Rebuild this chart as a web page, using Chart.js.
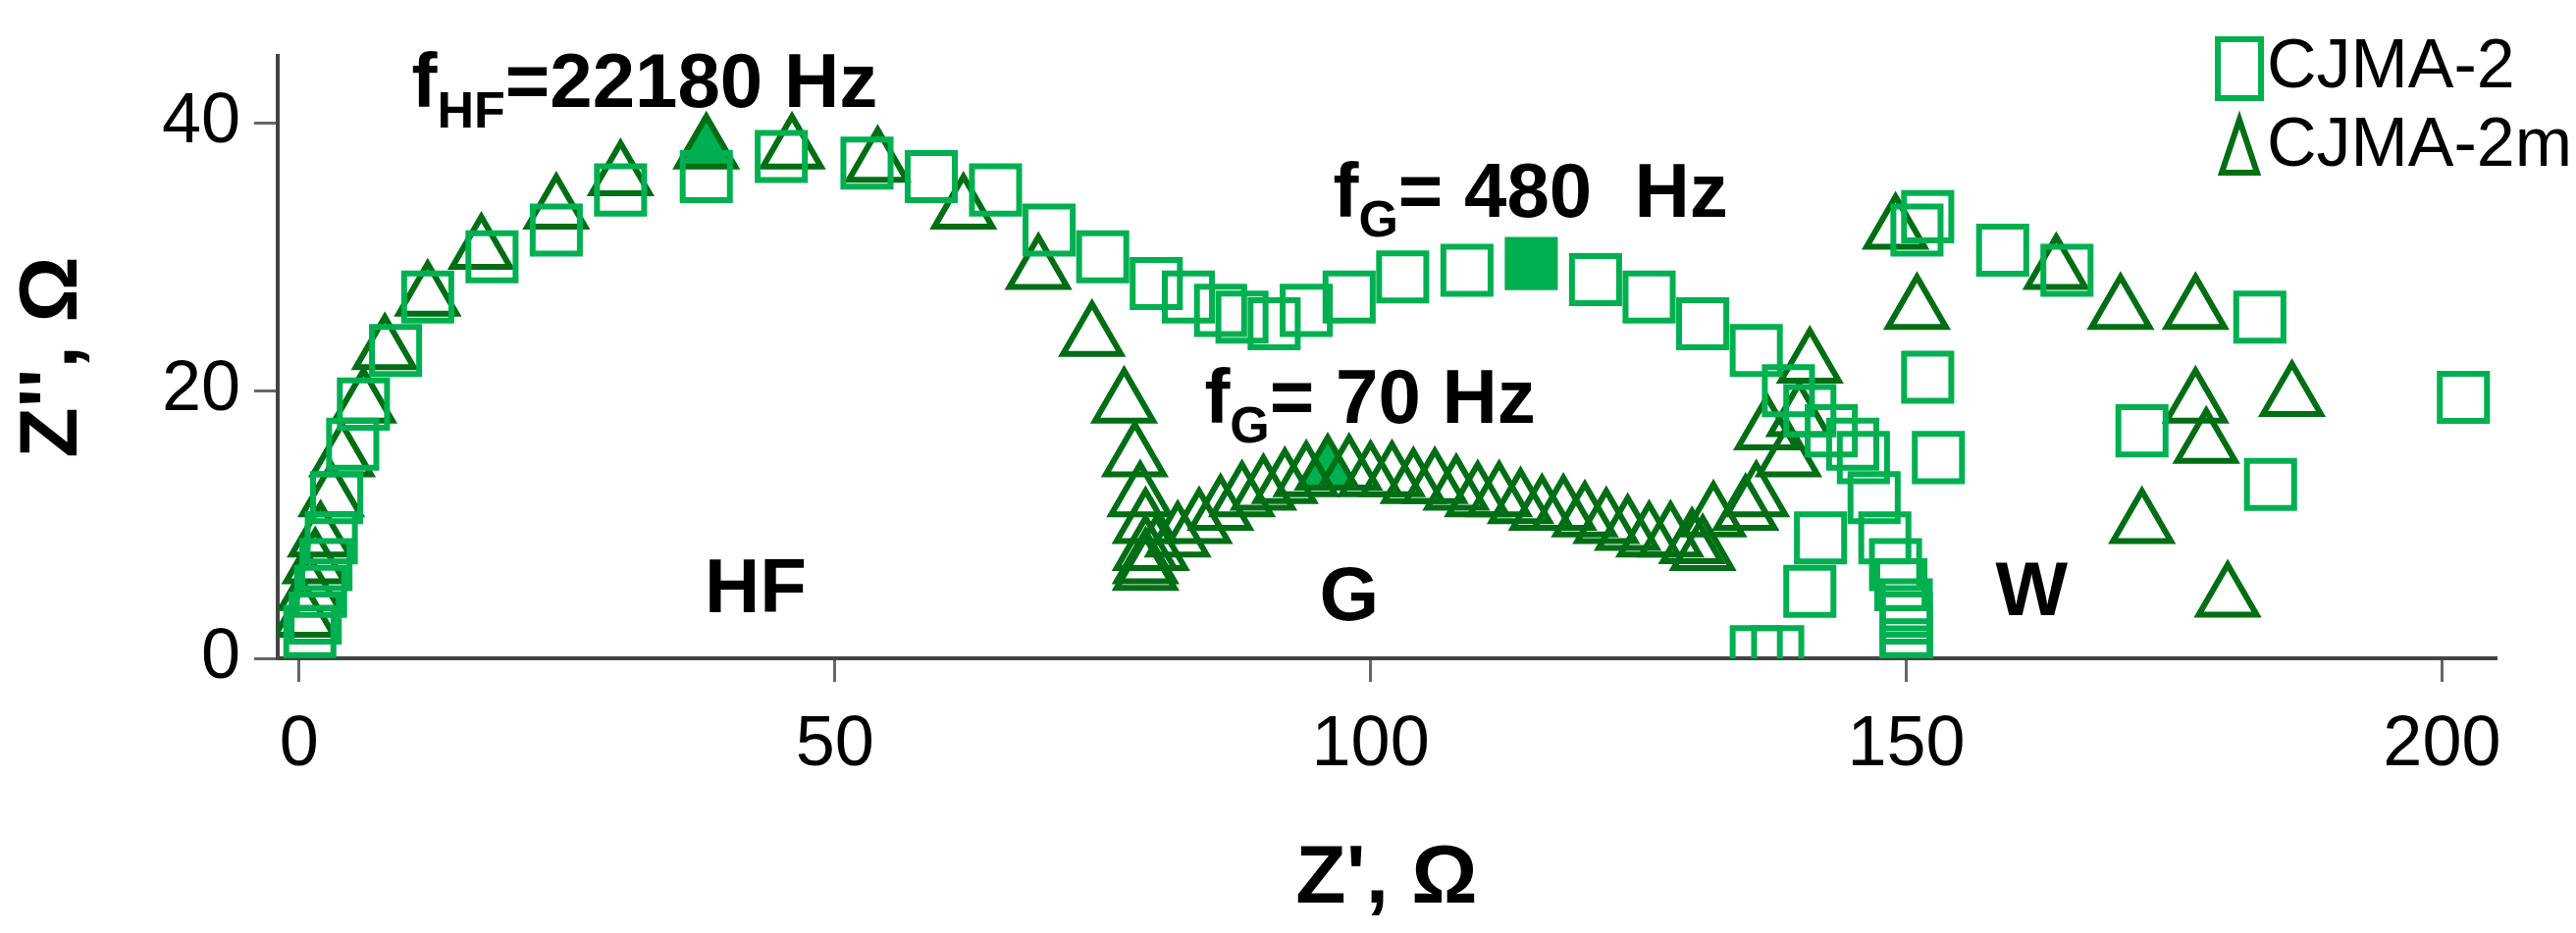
<!DOCTYPE html>
<html>
<head>
<meta charset="utf-8">
<script src="https://cdn.jsdelivr.net/npm/chart.js@4"></script>
<style>
  body { margin: 0; background: #fff; }
  #wrap { width: 2625px; height: 951px; }
</style>
</head>
<body>
<div id="wrap"><canvas id="nyquist"></canvas></div>
<script>
// values (Z', Z'' in ohm)
const cjma2X = [1, 1.5, 2, 2.5, 3, 3.5, 5, 6, 9, 12, 18, 24, 30, 38, 45, 53, 59, 65, 70, 75, 80, 83, 86, 88, 91, 94, 98, 103, 109, 121, 126, 131, 136, 139, 141, 143, 145, 146, 147, 148, 149, 149.5, 150, 150, 150, 150, 150, 142, 141, 138, 136, 152, 151, 159, 165, 183, 152, 153, 172, 184, 202];
const cjma2Y = [2, 3, 5, 7, 9, 12, 16, 19, 23, 27, 30, 32, 35, 36, 37.5, 37, 36, 35, 32, 30, 28, 27, 26, 25.5, 25, 26, 27, 28.5, 29, 28.3, 27, 25, 23, 20, 18.5, 17, 16, 15, 12, 9, 7, 5.5, 4, 3, 2, 1, 0, 9, 5, 0.5, 0.5, 33, 32, 30.5, 29, 25.5, 21, 15, 17, 13, 19.5];
const cjma2FilledX = [115];
const cjma2FilledY = [29.5];

const cjma2mX = [0.5, 1, 1.5, 2, 3, 4, 6, 8, 12, 17, 24, 30, 46, 54, 62, 69, 74, 77, 78, 78.5, 79, 79, 79, 79, 80, 82, 84, 86, 88, 90, 92, 94, 98, 100, 102, 104, 106, 108, 110, 112, 114, 116, 118, 120, 122, 124, 126, 128, 130, 131, 132, 135, 136, 137, 139, 140, 141, 149, 151, 164, 170, 177, 177, 178, 186, 172, 180];
const cjma2mY = [3, 5, 7, 9, 12, 15, 19, 23, 27, 30.5, 33.5, 36, 38, 37, 33.5, 29, 24, 19, 15, 12, 10, 8, 7, 6.5, 8, 9, 10, 11, 12, 12.5, 13, 13.5, 14, 13.5, 13.5, 13, 13, 12.5, 12, 12, 11.5, 11, 11, 10.5, 10, 9.5, 9, 9, 8.5, 8, 10.5, 11, 12, 17, 15, 18, 22, 32, 26, 29, 26, 26, 19, 16, 19.5, 10, 4.5];
const cjma2mFilledX = [38, 96];
const cjma2mFilledY = [38, 14];

const xTicks = [0, 50, 100, 150, 200];
const yTicks = [0, 20, 40];

const LIGHT = 'rgb(0,176,80)';
const DARK = 'rgb(0,110,20)';
const NARROW = '"Liberation Sans Narrow", "Arial Narrow", Arial, sans-serif';
const SANS = 'Arial, "Liberation Sans", sans-serif';

function pts(xs, ys) {
  return xs.map(function(x, i) { return {x: x, y: ys[i]}; });
}

// annotations: [main, subscript, rest, x, y]
const notes = [
  ['f', 'HF', '=22180 Hz', 10.5, 42.8],
  ['f', 'G', '= 480  Hz', 96.5, 34.6],
  ['f', 'G', '= 70 Hz', 84.5, 19.2],
  ['HF', '', '', 42.6, 5],
  ['G', '', '', 98, 4.4],
  ['W', '', '', 161.7, 4.8]
];

const annotate = {
  id: 'annotate',
  afterDatasetsDraw: function(chart) {
    var ctx = chart.ctx, sx = chart.scales.x, sy = chart.scales.y;
    ctx.save();
    ctx.fillStyle = '#000';
    ctx.textBaseline = 'middle';
    notes.forEach(function(n) {
      var px = sx.getPixelForValue(n[3]), py = sy.getPixelForValue(n[4]);
      ctx.font = 'bold 78px ' + NARROW;
      if (!n[1]) {
        ctx.textAlign = 'center';
        ctx.fillText(n[0], px, py);
        return;
      }
      ctx.textAlign = 'left';
      ctx.fillText(n[0], px, py);
      px += ctx.measureText(n[0]).width;
      ctx.font = 'bold 52px ' + NARROW;
      ctx.fillText(n[1], px, py + 28);
      px += ctx.measureText(n[1]).width;
      ctx.font = 'bold 78px ' + NARROW;
      ctx.fillText(n[2], px, py);
    });

    // legend, top right
    var items = [['CJMA-2', 'rect', LIGHT, 2282, 70], ['CJMA-2m', 'triangle', DARK, 2282, 150]];
    ctx.font = '70px ' + NARROW;
    ctx.textAlign = 'left';
    items.forEach(function(it) {
      ctx.strokeStyle = it[2];
      ctx.lineWidth = 6;
      ctx.beginPath();
      if (it[1] === 'rect') {
        ctx.rect(it[3] - 22, it[4] - 30, 44, 60);
      } else {
        ctx.moveTo(it[3], it[4] - 28);
        ctx.lineTo(it[3] + 18, it[4] + 26);
        ctx.lineTo(it[3] - 18, it[4] + 26);
        ctx.closePath();
      }
      ctx.stroke();
      ctx.fillStyle = '#000';
      ctx.fillText(it[0], it[3] + 28, it[4]);
    });
    ctx.restore();
  }
};

new Chart(document.getElementById('nyquist'), {
  type: 'scatter',
  data: {
    datasets: [
      { label: 'CJMA-2', data: pts(cjma2X, cjma2Y), pointStyle: 'rect', pointRadius: 34,
        borderColor: LIGHT, backgroundColor: 'rgba(0,0,0,0)', pointBorderWidth: 6 },
      { label: 'CJMA-2 filled', data: pts(cjma2FilledX, cjma2FilledY), pointStyle: 'rect', pointRadius: 34,
        borderColor: LIGHT, backgroundColor: LIGHT, pointBorderWidth: 6 },
      { label: 'CJMA-2m', data: pts(cjma2mX, cjma2mY), pointStyle: 'triangle', pointRadius: 34,
        borderColor: DARK, backgroundColor: 'rgba(0,0,0,0)', pointBorderWidth: 6 },
      { label: 'CJMA-2m filled', data: pts(cjma2mFilledX, cjma2mFilledY), pointStyle: 'triangle', pointRadius: 34,
        borderColor: DARK, backgroundColor: LIGHT, pointBorderWidth: 6 }
    ]
  },
  options: {
    responsive: true,
    maintainAspectRatio: false,
    animation: false,
    layout: { padding: { top: 41, right: 82, left: 0, bottom: 0 } },
    plugins: { legend: { display: false }, tooltip: { enabled: false } },
    scales: {
      x: {
        type: 'linear', min: -2, max: 205,
        afterBuildTicks: function(s) { s.ticks = xTicks.map(function(v) { return {value: v}; }); },
        afterFit: function(s) { s.height = 280; },
        grid: { drawOnChartArea: false, color: '#666', tickLength: 24, lineWidth: 3 },
        border: { color: '#444', width: 4 },
        ticks: { color: '#000', padding: 22, font: { size: 72, family: NARROW } },
        title: { display: true, text: "Z', \u03A9", color: '#000', padding: { top: 24 },
          font: { size: 84, weight: 'bold', family: NARROW } }
      },
      y: {
        type: 'linear', min: 0, max: 45,
        afterBuildTicks: function(s) { s.ticks = yTicks.map(function(v) { return {value: v}; }); },
        afterFit: function(s) { s.width = 283; },
        grid: { drawOnChartArea: false, color: '#666', tickLength: 24, lineWidth: 3 },
        border: { color: '#444', width: 4 },
        ticks: { color: '#000', padding: 14, font: { size: 72, family: NARROW } },
        title: { display: true, text: "Z'', \u03A9", color: '#000', padding: { bottom: 20 },
          font: { size: 84, weight: 'bold', family: NARROW } }
      }
    }
  },
  plugins: [annotate]
});
</script>
</body>
</html>
